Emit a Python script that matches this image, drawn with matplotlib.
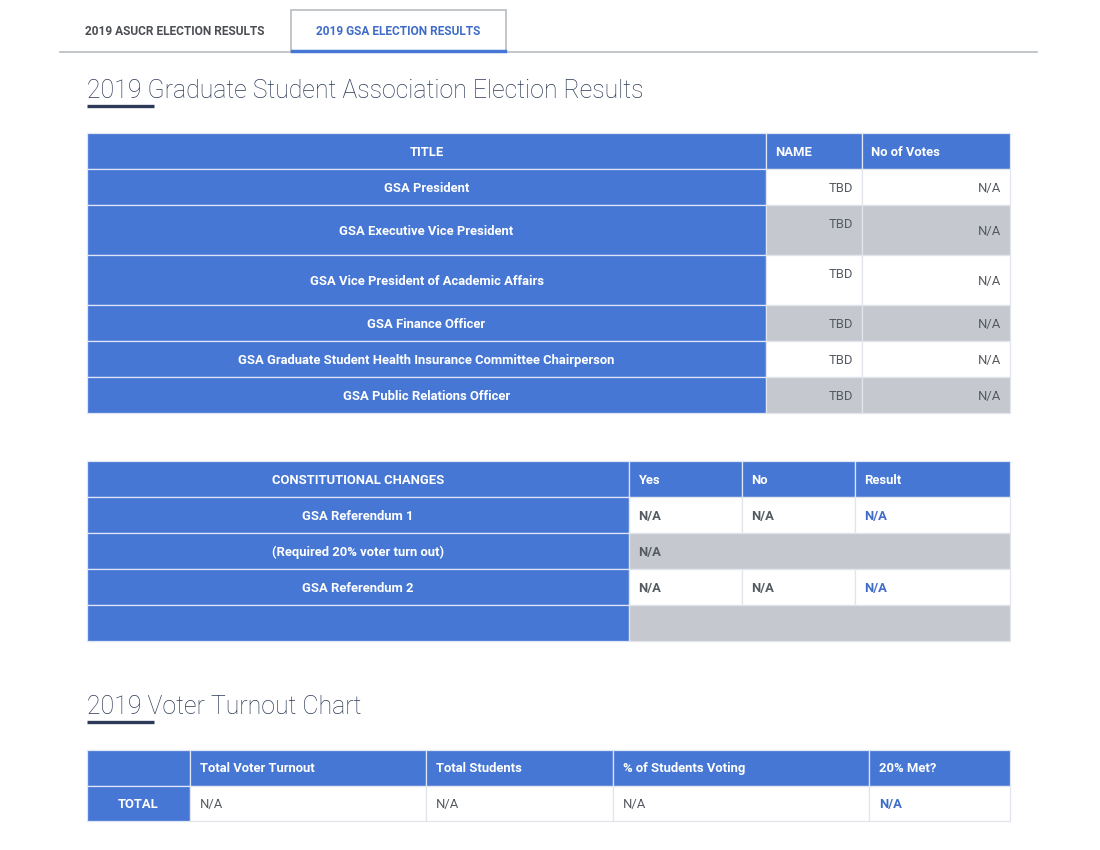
import matplotlib.pyplot as plt
from matplotlib.patches import Rectangle

BLUE = "#4677d5"
GRAY = "#c5c9cf"
NAVY = "#2c3a57"
TXT = "#555a60"
LINK = "#3f6cc6"
EDGE = "#e2e6ec"

plt.rcParams["font.family"] = ["Roboto", "DejaVu Sans"]

# data
tab_labels = ["2019 ASUCR ELECTION RESULTS", "2019 GSA ELECTION RESULTS"]
title_main = "2019 Graduate Student Association Election Results"
title_turnout = "2019 Voter Turnout Chart"

gsa_header = ["TITLE", "NAME", "No of Votes"]
gsa_titles = ["GSA President", "GSA Executive Vice President",
              "GSA Vice President of Academic Affairs", "GSA Finance Officer",
              "GSA Graduate Student Health Insurance Committee Chairperson",
              "GSA Public Relations Officer"]
gsa_names = ["TBD", "TBD", "TBD", "TBD", "TBD", "TBD"]
gsa_votes = ["N/A", "N/A", "N/A", "N/A", "N/A", "N/A"]

const_header = ["CONSTITUTIONAL CHANGES", "Yes", "No", "Result"]
const_items = ["GSA Referendum 1", "(Required 20% voter turn out)", "GSA Referendum 2", ""]
const_yes = ["N/A", "N/A", "N/A", ""]
const_no = ["N/A", None, "N/A", None]
const_result = ["N/A", None, "N/A", None]

turnout_header = ["", "Total Voter Turnout", "Total Students", "% of Students Voting", "20% Met?"]
turnout_row = ["TOTAL", "N/A", "N/A", "N/A", "N/A"]

fig = plt.figure(figsize=(11, 8.5), dpi=100)
ax = fig.add_axes([0, 0, 1, 1])
ax.set_xlim(0, 1100)
ax.set_ylim(850, 0)
ax.axis("off")


def cell(x0, x1, y0, y1, fc, ec=EDGE):
    ax.add_patch(Rectangle((x0, y0), x1 - x0, y1 - y0, facecolor=fc,
                           edgecolor=ec, linewidth=0.9))


def txt(x, y, s, ha="left", color=TXT, weight="normal", size=9.4):
    # small nudge down, va=center counts the descender
    ax.text(x, y + 1.2, s, ha=ha, va="center", color=color, fontweight=weight, fontsize=size)


# tabs
ax.plot([60, 1037], [52, 52], color="#b9bcc0", lw=1.2)
ax.add_patch(Rectangle((291, 10), 215, 42, facecolor="white", edgecolor="#b9bcc0", lw=1.2))
ax.plot([292, 505], [50.5, 50.5], color=BLUE, lw=2.5)
txt(175, 30, tab_labels[0], ha="center", color="#4a4d52", weight="bold", size=8.6)
txt(398, 30, tab_labels[1], ha="center", color=LINK, weight="bold", size=8.6)

# section titles
for ty, s in [(89, title_main), (705, title_turnout)]:
    ax.text(87, ty + 1.5, s, ha="left", va="center", color=NAVY, fontsize=17.9, fontweight="light")
    ax.plot([87, 154], [ty + 17, ty + 17], color=NAVY, lw=2.4, solid_capstyle="butt")

# GSA table
gx = [87, 766, 862, 1010]
gy = [133, 169, 205, 255, 305, 341, 377, 413]
for j in range(3):
    cell(gx[j], gx[j + 1], gy[0], gy[1], BLUE, "#dfe6f5")
txt((gx[0] + gx[1]) / 2, 151, gsa_header[0], ha="center", color="white", weight="bold")
txt(gx[1] + 9, 151, gsa_header[1], color="white", weight="bold")
txt(gx[2] + 9, 151, gsa_header[2], color="white", weight="bold")
for i, name in enumerate(gsa_titles):
    y0, y1 = gy[i + 1], gy[i + 2]
    mid = (y0 + y1) / 2
    fc = "white" if i % 2 == 0 else GRAY
    cell(gx[0], gx[1], y0, y1, BLUE, "#dfe6f5")
    cell(gx[1], gx[2], y0, y1, fc)
    cell(gx[2], gx[3], y0, y1, fc)
    txt((gx[0] + gx[1]) / 2, mid, name, ha="center", color="white", weight="bold")
    ny = y0 + 18 if (y1 - y0) > 40 else mid
    txt(gx[2] - 9, ny, gsa_names[i], ha="right")
    txt(gx[3] - 9, mid, gsa_votes[i], ha="right")

# constitutional changes table
cx = [87, 629, 742, 855, 1010]
cy = [461, 497, 533, 569, 605, 641]
for j in range(4):
    cell(cx[j], cx[j + 1], cy[0], cy[1], BLUE, "#dfe6f5")
txt((cx[0] + cx[1]) / 2, 479, const_header[0], ha="center", color="white", weight="bold")
for j in range(1, 4):
    txt(cx[j] + 9, 479, const_header[j], color="white", weight="bold")
for i, item in enumerate(const_items):
    y0, y1 = cy[i + 1], cy[i + 2]
    mid = (y0 + y1) / 2
    cell(cx[0], cx[1], y0, y1, BLUE, "#dfe6f5")
    if item:
        txt((cx[0] + cx[1]) / 2, mid, item, ha="center", color="white", weight="bold")
    if const_no[i] is None:
        cell(cx[1], cx[4], y0, y1, GRAY)
        if const_yes[i]:
            txt(cx[1] + 9, mid, const_yes[i], weight="bold")
    else:
        for j in range(1, 4):
            cell(cx[j], cx[j + 1], y0, y1, "white")
        txt(cx[1] + 9, mid, const_yes[i], weight="bold")
        txt(cx[2] + 9, mid, const_no[i], weight="bold")
        txt(cx[3] + 9, mid, const_result[i], color=LINK, weight="bold")

# turnout table
tx = [87, 190, 426, 613, 869, 1010]
ty = [750, 786, 821]
for j in range(5):
    cell(tx[j], tx[j + 1], ty[0], ty[1], BLUE, "#dfe6f5")
    if turnout_header[j]:
        txt(tx[j] + 10, 767, turnout_header[j], color="white", weight="bold")
cell(tx[0], tx[1], ty[1], ty[2], BLUE, "#dfe6f5")
txt((tx[0] + tx[1]) / 2, 803, turnout_row[0], ha="center", color="white", weight="bold")
for j in range(1, 5):
    cell(tx[j], tx[j + 1], ty[1], ty[2], "white")
    last = j == 4
    txt(tx[j] + 10, 803, turnout_row[j], color=LINK if last else TXT,
        weight="bold" if last else "normal")

fig.savefig("out.png", dpi=100, facecolor="white")
